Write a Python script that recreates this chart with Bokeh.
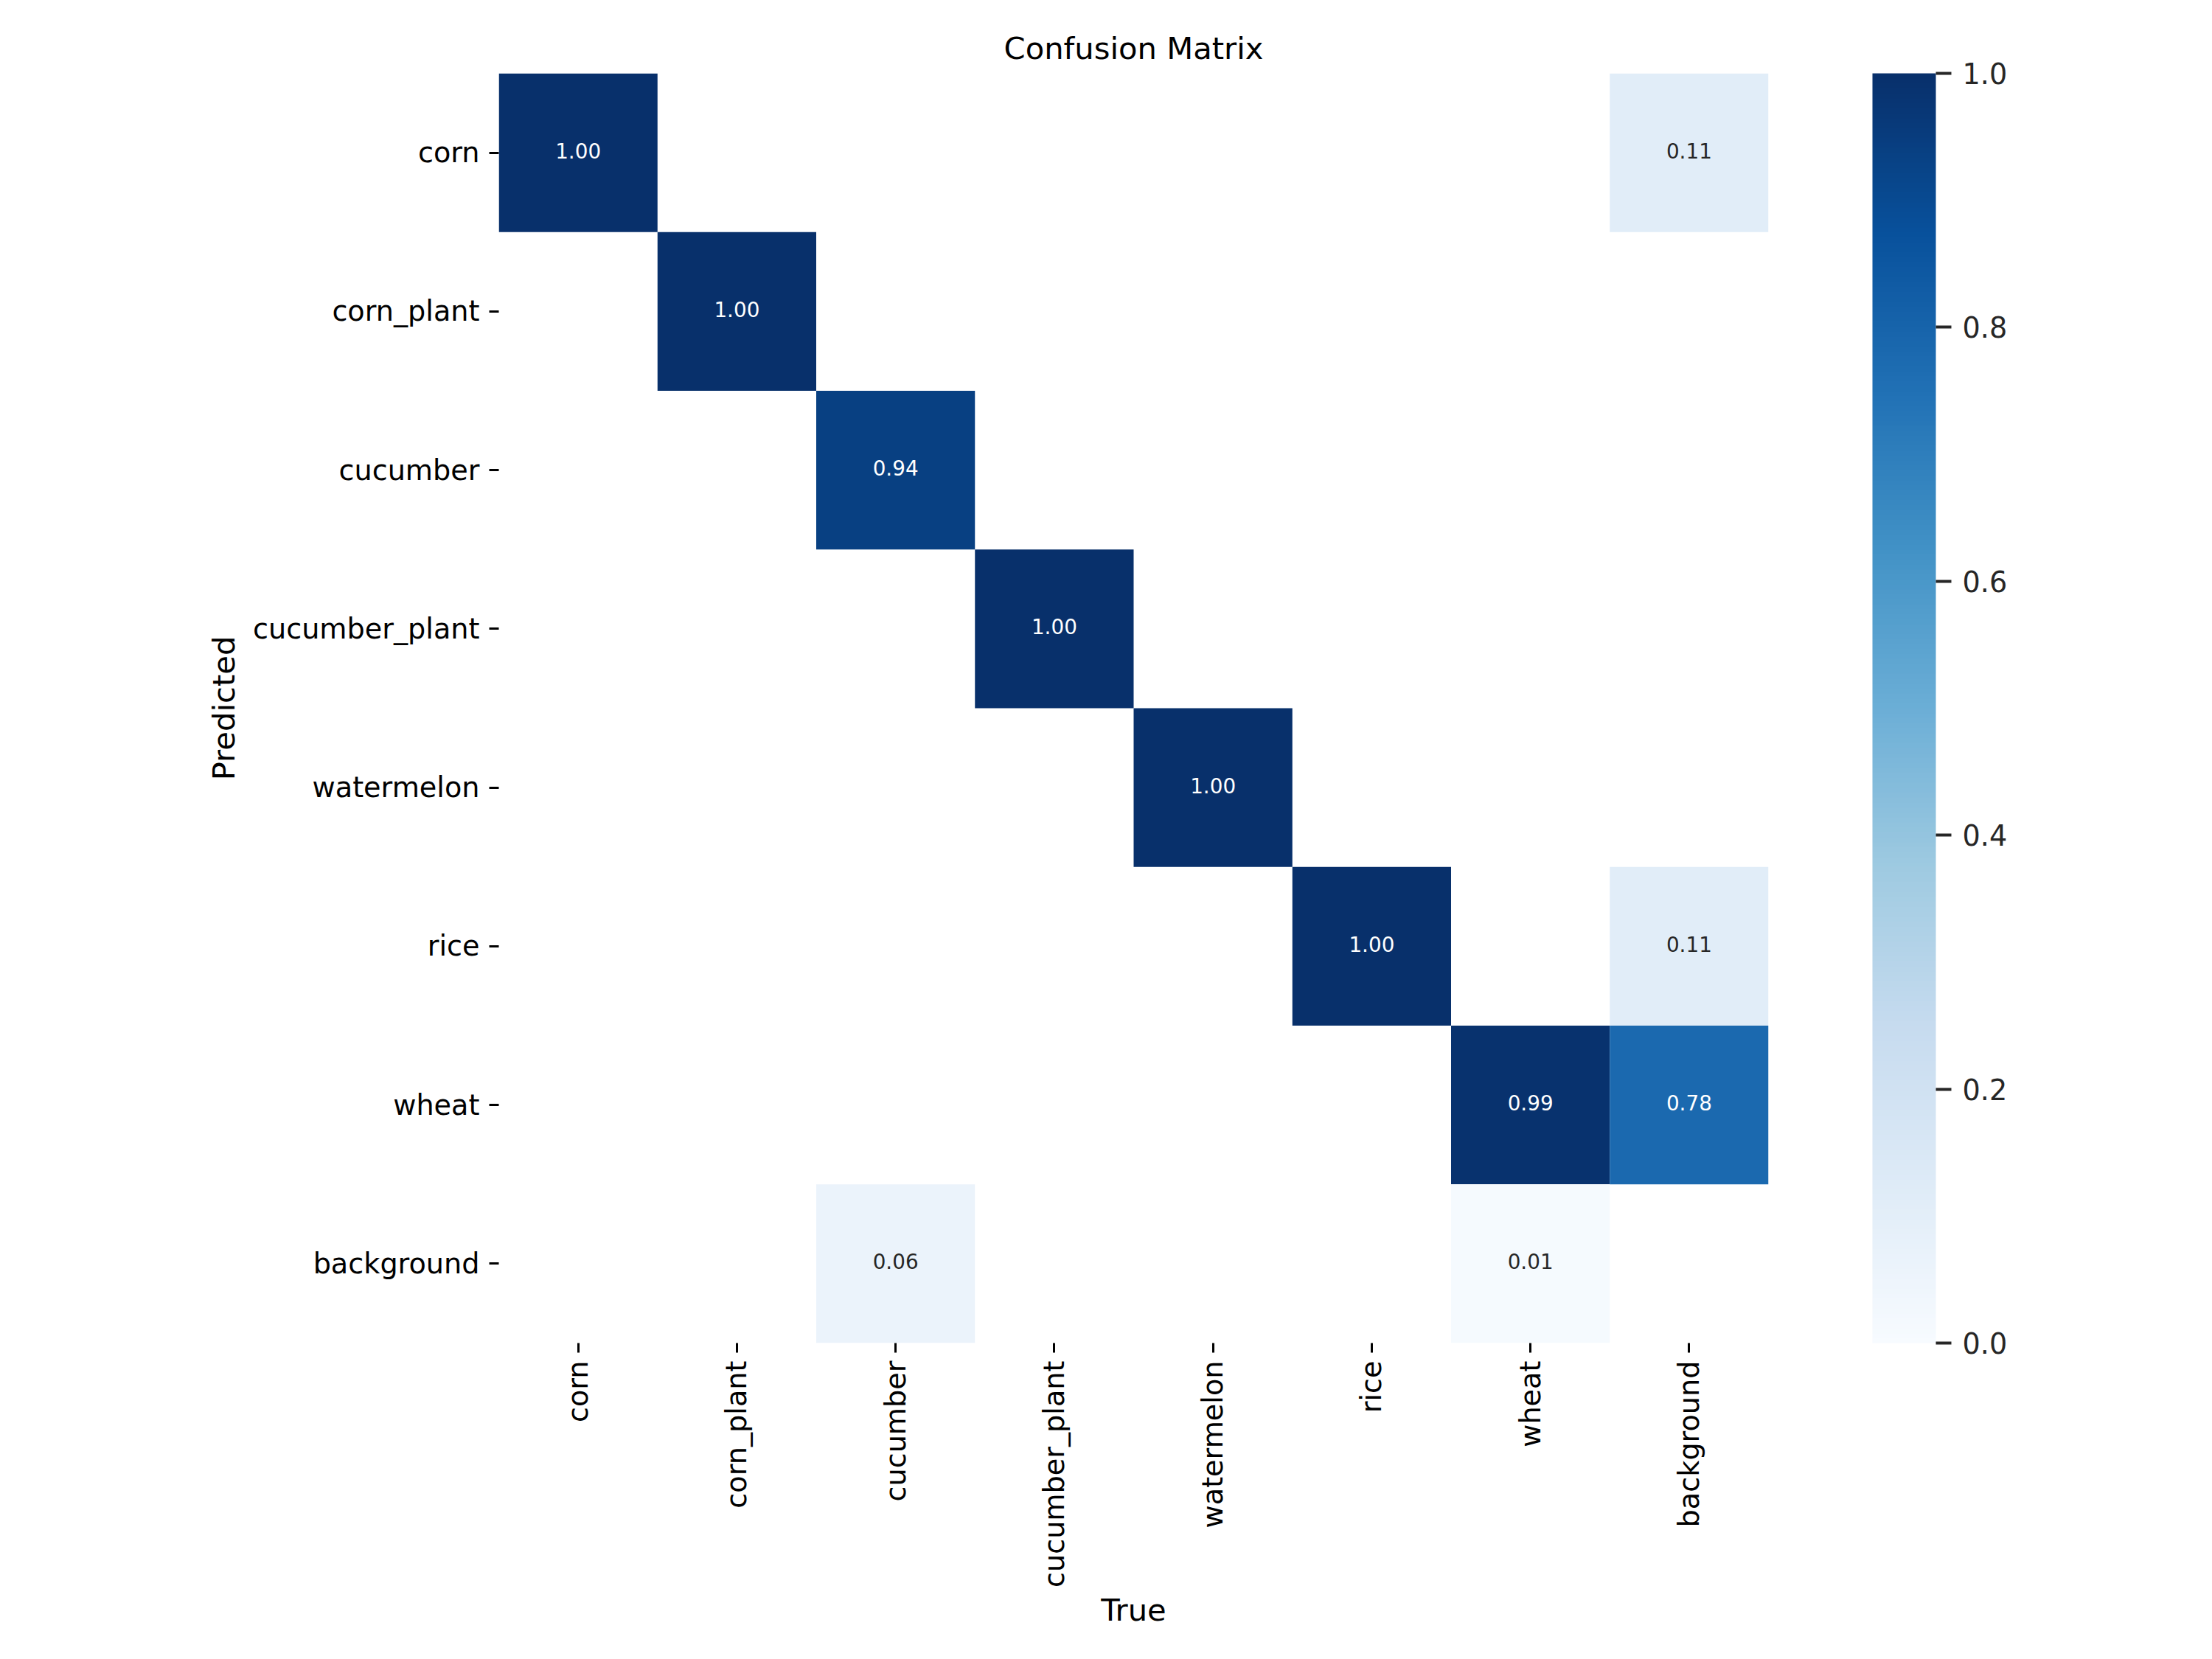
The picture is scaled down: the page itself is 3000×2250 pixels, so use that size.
import math
from bokeh.plotting import figure
from bokeh.models import (FactorRange, ColumnDataSource, LinearColorMapper, ColorBar,
                          FixedTicker, PrintfTickFormatter)
from bokeh.palettes import Blues256
from bokeh.core.properties import value
from bokeh.embed import file_html
from bokeh.resources import INLINE

# ---- data ----
classes = ["corn", "corn_plant", "cucumber", "cucumber_plant", "watermelon", "rice", "wheat", "background"]
# non-zero cells: (predicted, true, value)
pred_labels = ["corn", "corn", "corn_plant", "cucumber", "cucumber_plant", "watermelon",
               "rice", "rice", "wheat", "wheat", "background", "background"]
true_labels = ["corn", "background", "corn_plant", "cucumber", "cucumber_plant", "watermelon",
               "rice", "background", "wheat", "background", "cucumber", "wheat"]
cell_values = [1.00, 0.11, 1.00, 0.94, 1.00, 1.00,
               1.00, 0.11, 0.99, 0.78, 0.06, 0.01]
cbar_ticks = [0.0, 0.2, 0.4, 0.6, 0.8, 1.0]

FONT = "DejaVu Sans"
palette = list(reversed(Blues256))  # light -> dark


def color_of(v):
    idx = min(int(v * (len(palette) - 1) + 0.5), len(palette) - 1)
    return palette[idx]


def lum(hexc):
    r, g, b = (int(hexc[i:i + 2], 16) / 255 for i in (1, 3, 5))
    def c(x):
        return x / 12.92 if x <= 0.03928 else ((x + 0.055) / 1.055) ** 2.4
    return 0.2126 * c(r) + 0.7152 * c(g) + 0.0722 * c(b)


text_colors = ["#262626" if lum(color_of(v)) > 0.408 else "#ffffff" for v in cell_values]
labels = ["%.2f" % v for v in cell_values]

src = ColumnDataSource(dict(x=true_labels, y=pred_labels, v=cell_values,
                            lab=labels, tc=text_colors))

mapper = LinearColorMapper(palette=palette, low=0.0, high=1.0)

FW = 1722
p = figure(x_range=FactorRange(*classes), y_range=FactorRange(*reversed(classes)),
           frame_width=FW, frame_height=FW,
           min_border_left=676, min_border_top=99, min_border_right=580, min_border_bottom=420,
           output_backend="svg", toolbar_location=None, title="Confusion Matrix")

p.rect(x="x", y="y", width=1, height=1, source=src,
       fill_color={"field": "v", "transform": mapper}, line_color=None)
p.text(x="x", y="y", text="lab", source=src, text_color="tc", text_align="center",
       text_baseline="middle", text_font_size="27.8px", text_font=value(FONT), y_offset=-3)

p.title.align = "center"
p.title.text_font = FONT
p.title.text_font_size = "41.7px"
p.title.text_font_style = "normal"
p.title.text_color = "#000000"
p.title.standoff = 20

p.grid.visible = False
p.outline_line_color = None
p.background_fill_color = "white"
p.border_fill_color = "white"

for ax in (p.xaxis[0], p.yaxis[0]):
    ax.axis_line_color = None
    ax.major_tick_in = 0
    ax.major_tick_out = 13
    ax.major_tick_line_width = 3
    ax.major_tick_line_color = "#000000"
    ax.major_label_text_font = FONT
    ax.major_label_text_font_size = "38.2px"
    ax.major_label_text_color = "#000000"
    ax.axis_label_text_font = FONT
    ax.axis_label_text_font_size = "41.7px"
    ax.axis_label_text_font_style = "normal"
    ax.axis_label_text_color = "#000000"
    ax.major_label_standoff = 13

p.xaxis.axis_label = "True"
p.yaxis.axis_label = "Predicted"
p.xaxis.major_label_orientation = math.pi / 2
p.xaxis.major_label_standoff = 11
p.xaxis.axis_label_standoff = 3
p.yaxis.axis_label_standoff = 12

cb = ColorBar(color_mapper=mapper, location=(FW + 141, 0), width=86, height=FW,
              padding=0, margin=0,
              ticker=FixedTicker(ticks=cbar_ticks), formatter=PrintfTickFormatter(format="%.1f"),
              major_tick_in=0, major_tick_out=21, major_tick_line_width=4,
              major_tick_line_color="#262626", minor_tick_line_color=None,
              label_standoff=15, major_label_text_font=FONT,
              major_label_text_font_size="38.2px", major_label_text_color="#262626",
              bar_line_color=None, border_line_color=None, background_fill_color=None)
p.add_layout(cb)

open("out.html", "w").write(file_html(p, INLINE))
